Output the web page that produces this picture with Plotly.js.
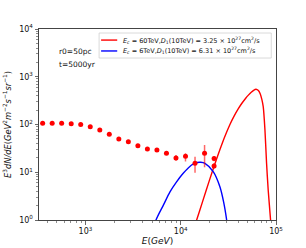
<!DOCTYPE html>
<html><head><meta charset="utf-8">
<script src="https://cdn.plot.ly/plotly-3.0.1.min.js"></script>
<style>html,body{margin:0;padding:0;background:#fff}#chart{width:306px;height:248px}</style>
</head><body><div id="chart"></div>
<script>
// Observed data points (E in GeV, E^3 dN/dE)
var dataE = [355, 447, 562, 708, 891, 1122, 1413, 1778, 2239, 2818, 3548, 4467, 5623, 7079, 8913, 11220, 14125, 17783, 22387, 22387];
var dataF = [106, 106, 106, 104, 99.6, 90, 76.5, 62.5, 49.8, 43.6, 36, 30.7, 29.2, 24.9, 19.9, 21.6, 15.4, 24.9, 19.4, 13.5];
var errUp = [0, 0, 0, 0, 0, 0, 0, 0, 0, 0, 0, 0, 0, 0, 3.1, 3.3, 5.8, 12.3, 2.5, 2.0];
var errDown = [0, 0, 0, 0, 0, 0, 0, 0, 0, 0, 0, 0, 0, 0, 2.4, 4.8, 5.6, 12.2, 2.5, 1.5];

// Model curve: Ec = 60 TeV (red)
var redE = [13804, 14689, 16982, 19953, 22909, 26915, 30200, 33113, 36308, 39811, 43652, 47863, 51286, 54954, 58210, 61660, 65310, 68390, 71120, 73450, 76560, 79620, 82790, 87700, 90160];
var redF = [0.676, 1.0, 2.455, 6.68, 15.3, 37.8, 67.9, 103.8, 150, 207, 275, 351, 412, 473, 519, 546, 513, 437, 331, 236, 77, 15.4, 4.25, 1.0, 0.4];

// Model curve: Ec = 6 TeV (blue)
var blueE = [5010, 5500, 6610, 7710, 9040, 10620, 13000, 14890, 16200, 17950, 21930, 25760, 28180, 30340, 31620];
var blueF = [0.5, 1.0, 2.1, 3.89, 6.3, 9.5, 14.2, 16.0, 16.2, 15.4, 10.3, 4.98, 2.4, 1.0, 0.5];

var legendLabels = [
  '<i>E<sub>c</sub></i> = 60TeV,<i>D</i><sub>1</sub>(10TeV) = 3.25 × 10<sup>27</sup>cm<sup>2</sup>/s',
  '<i>E<sub>c</sub></i> = 6TeV,<i>D</i><sub>1</sub>(10TeV) = 6.31 × 10<sup>27</sup>cm<sup>2</sup>/s'
];
var xTickVals = [1000, 10000, 100000];
var xTickText = ['10<sup>3</sup>', '10<sup>4</sup>', '10<sup>5</sup>'];
var yTickVals = [1, 10, 100, 1000, 10000];
var yTickText = ['10<sup>0</sup>', '10<sup>1</sup>', '10<sup>2</sup>', '10<sup>3</sup>', '10<sup>4</sup>'];

function minorVals(k0, k1) {
  var v = [];
  for (var k = k0; k <= k1; k++) for (var m = 2; m <= 9; m++) v.push(m * Math.pow(10, k));
  return v;
}

var FONT = 'DejaVu Sans, sans-serif';
var traces = [
  {x: redE, y: redF, type: 'scatter', mode: 'lines', line: {color: '#ff0000', width: 1.4, shape: 'spline', smoothing: 0.6}, name: legendLabels[0], showlegend: false, hoverinfo: 'skip'},
  {x: blueE, y: blueF, type: 'scatter', mode: 'lines', line: {color: '#0000ff', width: 1.4, shape: 'spline', smoothing: 0.8}, name: legendLabels[1], showlegend: false, hoverinfo: 'skip'},
  {x: dataE, y: dataF, type: 'scatter', mode: 'markers', marker: {color: '#ff0000', size: 5},
   error_y: {type: 'data', symmetric: false, array: errUp, arrayminus: errDown, color: 'rgba(255,0,0,0.6)', thickness: 1.5, width: 0},
   name: 'data', showlegend: false}
];

var ax = {showline: true, linecolor: '#444', linewidth: 1, mirror: true, ticks: 'outside', ticklen: 3.5, tickwidth: 0.8, tickcolor: '#444', showgrid: false, zeroline: false,
  tickfont: {family: FONT, size: 8, color: '#111'}};

var layout = {
  width: 306, height: 248,
  margin: {l: 39, r: 30.3, t: 29, b: 28},
  paper_bgcolor: '#fff', plot_bgcolor: '#fff',
  showlegend: false,
  xaxis: Object.assign({}, ax, {type: 'log', range: [2.512, 5.0], tickmode: 'array', tickvals: xTickVals, ticktext: xTickText,
    minor: {tickvals: minorVals(2, 4), ticks: 'outside', ticklen: 2, tickwidth: 0.6, tickcolor: '#444'},
    title: {text: '<i>E</i>(<i>GeV</i>)', font: {family: FONT, size: 9, color: '#111'}, standoff: 2}}),
  yaxis: Object.assign({}, ax, {type: 'log', range: [0, 4], tickmode: 'array', tickvals: yTickVals, ticktext: yTickText,
    minor: {tickvals: minorVals(0, 3), ticks: 'outside', ticklen: 2, tickwidth: 0.6, tickcolor: '#444'},
    title: {text: '<i>E</i><sup>3</sup><i>dN/dE</i>(<i>GeV</i><sup>2</sup><i>m</i><sup>−2</sup><i>s</i><sup>−1</sup><i>sr</i><sup>−1</sup>)', font: {family: FONT, size: 8.3, color: '#111'}, standoff: 6}}),
  shapes: [
    {type: 'rect', xref: 'paper', yref: 'paper', x0: 0.2535, x1: 0.980, y0: 0.848, y1: 0.979, line: {color: '#d0d0d0', width: 0.8}, fillcolor: 'rgba(255,255,255,0.8)'},
    {type: 'line', xref: 'paper', yref: 'paper', x0: 0.262, x1: 0.330, y0: 0.942, y1: 0.942, line: {color: '#ff0000', width: 1.4}},
    {type: 'line', xref: 'paper', yref: 'paper', x0: 0.262, x1: 0.330, y0: 0.885, y1: 0.885, line: {color: '#0000ff', width: 1.4}}
  ],
  annotations: [
    {xref: 'paper', yref: 'paper', x: 0.346, y: 0.942, xanchor: 'left', yanchor: 'middle', showarrow: false, text: legendLabels[0], font: {family: FONT, size: 6.5, color: '#111'}},
    {xref: 'paper', yref: 'paper', x: 0.346, y: 0.885, xanchor: 'left', yanchor: 'middle', showarrow: false, text: legendLabels[1], font: {family: FONT, size: 6.5, color: '#111'}},
    {xref: 'paper', yref: 'paper', x: 0.076, y: 0.883, xanchor: 'left', yanchor: 'middle', showarrow: false, text: 'r0=50pc', font: {family: FONT, size: 7.5, color: '#111'}},
    {xref: 'paper', yref: 'paper', x: 0.076, y: 0.815, xanchor: 'left', yanchor: 'middle', showarrow: false, text: 't=5000yr', font: {family: FONT, size: 7.5, color: '#111'}}
  ]
};
Plotly.newPlot('chart', traces, layout, {staticPlot: true, displayModeBar: false});
</script>
</body></html>
